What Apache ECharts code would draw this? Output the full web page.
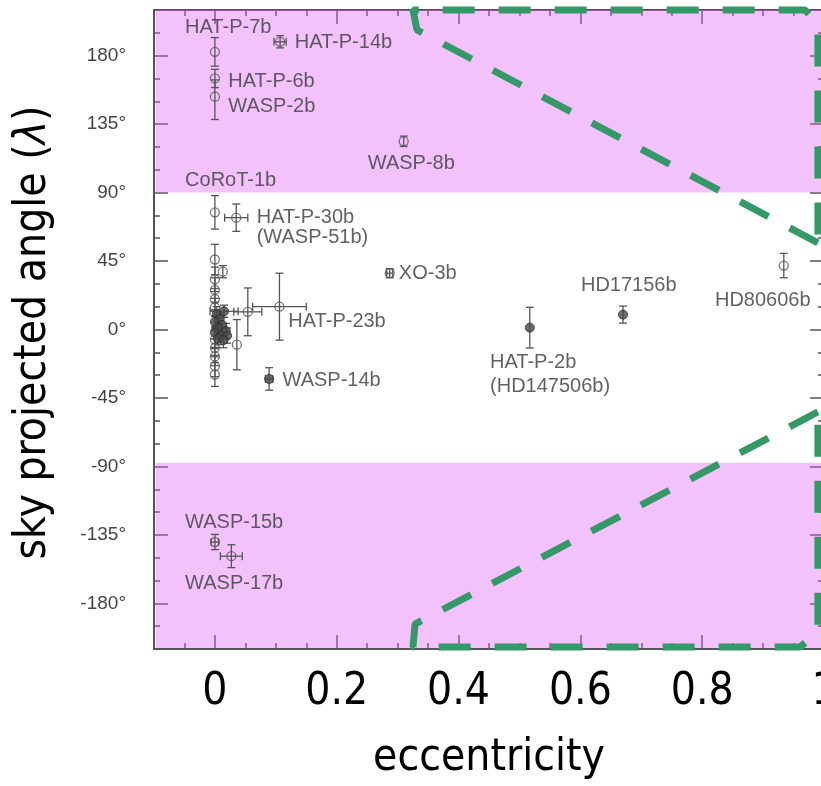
<!DOCTYPE html>
<html><head><meta charset="utf-8">
<script src="https://cdn.jsdelivr.net/npm/echarts@6/dist/echarts.min.js"></script>
<style>html,body{margin:0;padding:0;background:#fff}#c{width:821px;height:786px}</style>
</head><body><div id="c"></div>
<script>
// ---------- data ----------
const ecc      = [0, 0, 0, 0.107, 0.31, 0, 0.035, 0.287, 0.106, 0.054, 0.036, 0.089, 0.67, 0.517, 0.934, 0, 0.027,
                  0, 0.013, 0, 0, 0, 0, 0, 0, 0, 0, 0,
                  0.015, 0.003, 0.008, 0, 0.012, 0.004, 0.018, 0, 0.01, 0.02, 0.005, 0.014];
const lambda   = [182.5, 165, 153, 189.1, 123.7, 77, 73.5, 37, 15, 11.6, -10, -32.5, 9.8, 1.2, 42, -139.7, -149,
                  46, 38, 33, 26, 20, 14.5, -6.6, -12, -17.7, -24, -29.6,
                  12, 10, 7, 5, 3, 1, -1, -2, -4, -4, -6, -7];
const eccErr   = [0, 0, 0, 0.01, 0, 0, 0.019, 0.005, 0.044, 0.023, 0, 0.006, 0, 0, 0, 0.006, 0.018,
                  0, 0, 0, 0, 0, 0, 0, 0, 0, 0, 0,
                  0.023, 0, 0, 0, 0, 0, 0, 0, 0, 0, 0, 0];
const lamErrLo = [9.4, 6, 15, 4, 3.4, 11, 9, 3, 22, 15.7, 16.5, 7.4, 5.6, 13.4, 8, 5, 7.5,
                  10, 4, 8, 8, 7, 6, 6, 6, 6, 7, 7.8,
                  4, 5, 4, 4, 5, 4, 5, 4, 4, 5, 4, 5];
const lamErrHi = [9.4, 6, 11, 4, 3.4, 11, 9, 3, 22, 15.7, 16.5, 7.4, 5.6, 13.4, 8, 5, 7.5,
                  10, 4, 8, 8, 7, 6, 6, 6, 6, 7, 7.8,
                  4, 5, 4, 4, 5, 4, 5, 4, 4, 5, 4, 5];
const filled   = [0, 0, 0, 0, 0, 0, 0, 0, 0, 0, 0, 1, 1, 1, 0, 0, 0,
                  0, 0, 0, 0, 0, 0, 0, 0, 0, 0, 0,
                  1, 1, 1, 1, 1, 1, 1, 1, 1, 1, 1, 1];

// planet name annotations (anchor = left-middle of the text, in data units)
const labelText = ['HAT-P-7b', 'HAT-P-14b', 'HAT-P-6b', 'WASP-2b', 'WASP-8b', 'CoRoT-1b', 'HAT-P-30b', '(WASP-51b)',
                   'XO-3b', 'HAT-P-23b', 'WASP-14b', 'HD17156b', 'HAT-P-2b', '(HD147506b)', 'HD80606b', 'WASP-15b', 'WASP-17b'];
const labelE    = [-0.049, 0.131, 0.022, 0.022, 0.251, -0.049, 0.0686, 0.0686,
                   0.302, 0.1205, 0.111, 0.601, 0.4517, 0.4517, 0.821, -0.049, -0.049];
const labelLam  = [198.4, 188.4, 163.3, 146.4, 109.2, 98.2, 73.4, 60.6,
                   36.9, 5.1, -33.2, 28.8, -21.8, -37.6, 18.9, -126.9, -166.7];

// misaligned-angle bands
const bandLow  = [-210, -87.5];
const bandHigh = [90, 211];
const bandE    = [-0.097, 1.0];

// green dashed wedges (eccentricity, lambda)
const wedgeTopE   = [0.990, 0.3318, 0.3252, 0.969, 0.990, 0.990];
const wedgeTopL   = [56.9, 196.9, 210, 210, 200.8, 56.9];
const wedgeBotE   = [0.990, 0.3286, 0.3252, 0.9607, 0.990, 0.990];
const wedgeBotL   = [-54.2, -193.6, -208.7, -208.7, -198.8, -54.2];

// axes
const xMin = -0.1, xMax = 1.0, yMin = -210, yMax = 210;
const xMajor = [0, 0.2, 0.4, 0.6, 0.8, 1.0];
const xTickLabels = ['0', '0.2', '0.4', '0.6', '0.8', '1'];
const yMajor = [-180, -135, -90, -45, 0, 45, 90, 135, 180];

// ---------- build ----------
const pts = ecc.map((e, i) => [e, lambda[i], eccErr[i], lamErrLo[i], lamErrHi[i]]);
const openPts = pts.filter((p, i) => !filled[i]);
const fillPts = pts.filter((p, i) => filled[i]);
const labels = labelText.map((t, i) => [labelE[i], labelLam[i], t]);

const chart = echarts.init(document.getElementById('c'));
const grey = '#555';
const narrow = "'Liberation Sans Narrow', 'DejaVu Sans Condensed', 'Roboto Condensed', 'Arial Narrow', sans-serif";
const bigSize = 44;

function tickAxis(kind, pos, major, extra) {
  const base = kind === 'x'
    ? { type: 'value', min: xMin, max: xMax, interval: 0.05 }
    : { type: 'value', min: yMin, max: yMax, interval: 15 };
  return Object.assign(base, {
    position: pos, splitLine: { show: false },
    axisLine: { show: false, onZero: false },
    axisLabel: { show: false },
    axisTick: major
      ? { show: true, inside: true, length: 14, customValues: kind === 'x' ? xMajor : yMajor, lineStyle: { color: grey, width: 1.5 } }
      : { show: true, inside: true, length: 6, lineStyle: { color: grey, width: 1.5 } }
  }, extra || {});
}

const option = {
  animation: false,
  backgroundColor: '#fff',
  grid: { left: 154, right: -3, top: 10, bottom: 137, containLabel: false, outerBoundsMode: 'none' },
  xAxis: [
    {
      type: 'value', min: xMin, max: xMax, interval: 0.05, position: 'bottom', z: 25,
      splitLine: { show: false },
      axisLine: { show: true, onZero: false, lineStyle: { color: grey, width: 2 } },
      axisTick: { show: false },
      axisLabel: {
        customValues: xMajor, margin: 22, color: '#000', fontSize: bigSize, fontFamily: narrow,
        formatter: v => { const k = xMajor.findIndex(m => Math.abs(m - v) < 1e-6); return k >= 0 ? xTickLabels[k] : ''; }
      },
      name: 'eccentricity', nameLocation: 'middle', nameGap: 88,
      nameTextStyle: { fontSize: bigSize, fontFamily: narrow, color: '#000' }
    },
    tickAxis('x', 'bottom', true),
    tickAxis('x', 'bottom', false),
    tickAxis('x', 'top', true, { axisLine: { show: true, onZero: false, lineStyle: { color: grey, width: 2 } } }),
    tickAxis('x', 'top', false)
  ],
  yAxis: [
    {
      type: 'value', min: yMin, max: yMax, interval: 15, position: 'left', z: 25,
      splitLine: { show: false },
      axisLine: { show: true, onZero: false, lineStyle: { color: grey, width: 2 } },
      axisTick: { show: false },
      axisLabel: {
        customValues: yMajor, margin: 28, color: '#444', fontSize: 19, fontFamily: 'Liberation Sans',
        formatter: v => v + '°'
      },
      name: 'sky projected angle ({i|λ})', nameLocation: 'middle', nameGap: 98,
      nameTextStyle: { fontSize: bigSize, fontFamily: narrow, color: '#000', padding: [0, 6, 0, 0],
        rich: { i: { fontSize: bigSize, fontFamily: narrow, fontStyle: 'italic', color: '#000' } } }
    },
    tickAxis('y', 'left', true),
    tickAxis('y', 'left', false),
    tickAxis('y', 'right', true, { axisLine: { show: true, onZero: false, lineStyle: { color: grey, width: 2 } } }),
    tickAxis('y', 'right', false)
  ],
  series: [
    {
      type: 'custom', z: 3, silent: true,
      data: pts,
      renderItem: (params, api) => {
        const e = api.value(0), l = api.value(1), ex = api.value(2), lo = api.value(3), hi = api.value(4);
        const style = { stroke: grey, lineWidth: 1.3, fill: null };
        const ch = [];
        const cap = 4;
        if (lo > 0 || hi > 0) {
          const t = api.coord([e, l + hi]), b = api.coord([e, l - lo]);
          ch.push({ type: 'line', shape: { x1: t[0], y1: t[1], x2: b[0], y2: b[1] }, style });
          ch.push({ type: 'line', shape: { x1: t[0] - cap, y1: t[1], x2: t[0] + cap, y2: t[1] }, style });
          ch.push({ type: 'line', shape: { x1: b[0] - cap, y1: b[1], x2: b[0] + cap, y2: b[1] }, style });
        }
        if (ex > 0) {
          const a = api.coord([e - ex, l]), c = api.coord([e + ex, l]);
          ch.push({ type: 'line', shape: { x1: a[0], y1: a[1], x2: c[0], y2: c[1] }, style });
          ch.push({ type: 'line', shape: { x1: a[0], y1: a[1] - cap, x2: a[0], y2: a[1] + cap }, style });
          ch.push({ type: 'line', shape: { x1: c[0], y1: c[1] - cap, x2: c[0], y2: c[1] + cap }, style });
        }
        return { type: 'group', children: ch };
      }
    },
    {
      type: 'scatter', z: 4, silent: true, symbol: 'circle', symbolSize: 9,
      itemStyle: { color: 'rgba(255,255,255,0)', borderColor: grey, borderWidth: 1.3 },
      data: openPts.map(p => [p[0], p[1]])
    },
    {
      type: 'scatter', z: 5, silent: true, symbol: 'circle', symbolSize: 9,
      itemStyle: { color: '#4a4a4a', borderColor: '#2a2a2a', borderWidth: 1 },
      data: fillPts.map(p => [p[0], p[1]])
    },
    {
      type: 'scatter', z: 6, silent: true, symbolSize: 0,
      data: labels,
      label: {
        show: true, position: 'right', distance: 0, formatter: p => p.value[2],
        fontFamily: 'Liberation Sans', fontSize: 20, color: '#3a3a3a'
      }
    },
    {
      type: 'line', z: 20, silent: true, data: [],
      markArea: {
        silent: true,
        itemStyle: { color: 'rgba(223,95,247,0.38)' },
        data: [
          [{ xAxis: bandE[0], yAxis: bandHigh[0] }, { xAxis: bandE[1], yAxis: bandHigh[1] }],
          [{ xAxis: bandE[0], yAxis: bandLow[0] }, { xAxis: bandE[1], yAxis: bandLow[1] }]
        ]
      }
    },
    {
      type: 'line', z: 30, silent: true, clip: false, symbol: 'none',
      data: wedgeTopE.map((e, i) => [e, wedgeTopL[i]]),
      lineStyle: { color: '#339966', width: 7, type: [32, 24], cap: 'butt' }
    },
    {
      type: 'line', z: 30, silent: true, clip: false, symbol: 'none',
      data: wedgeBotE.map((e, i) => [e, wedgeBotL[i]]),
      lineStyle: { color: '#339966', width: 7, type: [32, 24], cap: 'butt' }
    }
  ]
};
chart.setOption(option);
</script></body></html>
